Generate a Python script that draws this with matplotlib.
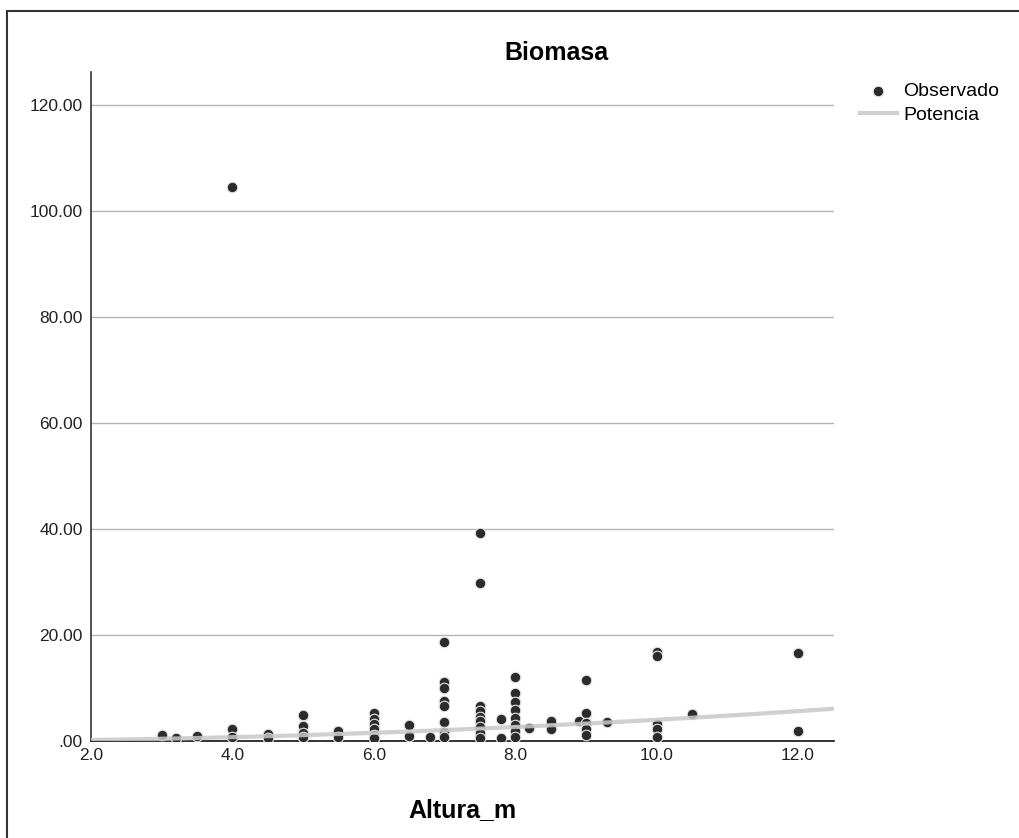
import matplotlib
matplotlib.use("Agg")
import matplotlib.pyplot as plt
import numpy as np
from matplotlib.patches import Rectangle

plt.rcParams['font.family'] = ['Liberation Sans', 'DejaVu Sans']

altura = [3.0, 3.2, 3.5,
          4.0, 4.0, 4.0,
          4.5, 4.5,
          5.0, 5.0, 5.0, 5.0,
          5.5, 5.5,
          6.0, 6.0, 6.0, 6.0, 6.0, 6.0,
          6.5, 6.5, 6.8,
          7.0, 7.0, 7.0, 7.0, 7.0, 7.0, 7.0, 7.0,
          7.5, 7.5, 7.5, 7.5, 7.5, 7.5, 7.5, 7.5, 7.5,
          7.8, 7.8,
          8.0, 8.0, 8.0, 8.0, 8.0, 8.0, 8.0, 8.0,
          8.2, 8.5, 8.5, 8.9,
          9.0, 9.0, 9.0, 9.0, 9.0,
          9.3,
          10.0, 10.0, 10.0, 10.0, 10.0,
          10.5, 12.0, 12.0]
biomasa = [1.2, 0.6, 1.0,
           104.5, 2.2, 0.8,
           1.4, 0.5,
           4.9, 2.8, 1.5, 0.7,
           1.9, 0.7,
           5.3, 4.2, 3.2, 2.2, 1.2, 0.5,
           3.0, 1.0, 0.8,
           18.7, 11.2, 10.0, 7.6, 6.6, 3.6, 1.7, 0.8,
           39.2, 29.8, 6.6, 5.6, 4.6, 3.8, 2.6, 1.5, 0.6,
           4.2, 0.5,
           12.1, 9.1, 7.4, 5.8, 4.3, 3.0, 1.8, 0.8,
           2.4, 3.8, 2.2, 3.8,
           11.5, 5.3, 3.4, 2.3, 1.1,
           3.5,
           16.8, 16.0, 3.2, 2.2, 0.8,
           5.1, 16.6, 1.9]

# power model fit (Potencia): y = a * x^b
fit_a = 0.054
fit_b = 1.87

y_ticks = [0, 20, 40, 60, 80, 100, 120]
x_ticks = [2, 4, 6, 8, 10, 12]

W, H = 1020, 838
fig = plt.figure(figsize=(W / 100, H / 100), dpi=100)
# axes box in pixels: x 91..834, y 72..741
ax = fig.add_axes([91 / W, 1 - 741 / H, (834 - 91) / W, (741 - 72) / H])

ax.scatter(altura, biomasa, s=58, c='#2b2b2b', edgecolors='#e6e6e6',
           linewidths=0.8, zorder=3, label='Observado')
xf = np.linspace(2.0, 12.51, 200)
ax.plot(xf, fit_a * xf ** fit_b, color='#c8c8c8', lw=3, alpha=0.85,
        zorder=4, label='Potencia')

ax.set_xlim(2.0, 12.51)
ax.set_ylim(0, 126.2)
ax.set_yticks(y_ticks)
ax.set_yticklabels(['.00'] + ['%.2f' % v for v in y_ticks[1:]])
ax.set_xticks(x_ticks)
ax.set_xticklabels(['%.1f' % v for v in x_ticks])
ax.tick_params(length=0, labelsize=12.5, colors='#222222')
ax.tick_params(axis='y', pad=6)
ax.tick_params(axis='x', pad=5)
for v in y_ticks[1:]:
    ax.axhline(v, color='#b4b4b4', lw=1, zorder=1)

for s in ['top', 'right']:
    ax.spines[s].set_visible(False)
ax.spines['left'].set_color('#333333')
ax.spines['bottom'].set_color('#111111')
ax.spines['left'].set_linewidth(1.2)
ax.spines['bottom'].set_linewidth(1.2)

fig.text(556 / W, 1 - 60 / H, 'Biomasa', fontsize=18, fontweight='bold',
         ha='center', va='baseline')
fig.text(462 / W, 1 - 817 / H, 'Altura_m', fontsize=18, fontweight='bold',
         ha='center', va='baseline')

ax.legend(loc='upper left', bbox_to_anchor=(852 / W, 1 - 75 / H),
          bbox_transform=fig.transFigure, frameon=False, fontsize=14,
          handlelength=1.9, borderaxespad=0, labelspacing=0.3,
          handletextpad=0.35)

fig.patches.append(Rectangle((7 / W, -0.1), 1.2, 1 - 11 / H + 0.1,
                             transform=fig.transFigure, fill=False,
                             edgecolor='#333333', lw=1.5))

fig.savefig('out.png', dpi=100)
